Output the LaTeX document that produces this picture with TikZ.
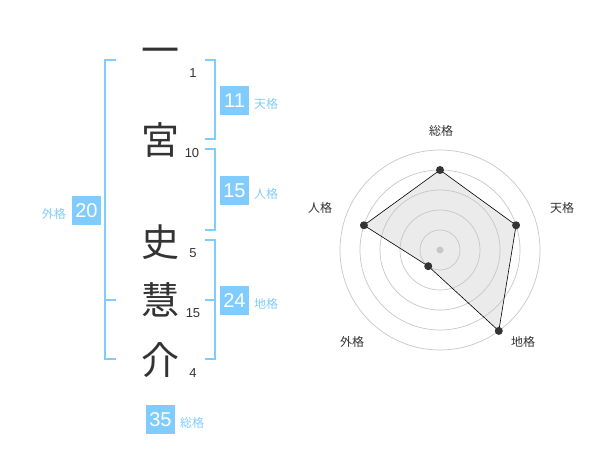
\documentclass[tikz,border=0pt]{standalone}
\usepackage{fontspec}
\setmainfont{Liberation Sans}
\newfontfamily\jp{Noto Sans CJK JP}
\definecolor{lblue}{RGB}{128,204,255}
\definecolor{dark}{RGB}{51,51,51}
\begin{document}
\begin{tikzpicture}[x=1pt,y=-1pt,
  bigchar/.style={font=\jp\fontsize{38}{38}\selectfont, text=dark, inner sep=0},
  strokes/.style={font=\fontsize{13}{13}\selectfont, text=dark, inner sep=0},
  valbox/.style={fill=lblue, text=white, minimum size=29pt, inner sep=0, font=\fontsize{20}{20}\selectfont},
  kaku/.style={text=lblue, font=\jp\fontsize{12}{12}\selectfont, inner sep=0},
  bracket/.style={draw=lblue, line width=2pt},
  ring/.style={draw=black!22, line width=0.7pt},
  rlabel/.style={text=dark, font=\jp\fontsize{12}{12}\selectfont, inner sep=0},
  dot/.style={circle, fill=dark, inner sep=0, minimum size=8pt},
  poly/.style={draw=black, line width=0.6pt}]
\useasboundingbox (0,0) rectangle (600,470);
% name characters
\node[bigchar] (c1) at (160,56) {一};
\node[bigchar] (c2) at (160,140) {宮};
\node[bigchar] (c3) at (160,242) {史};
\node[bigchar] (c4) at (160,300) {慧};
\node[bigchar] (c5) at (160,360) {介};
% stroke counts
\node[strokes] (n1) at (193,73) {1};
\node[strokes] (n2) at (192,153) {10};
\node[strokes] (n3) at (193,253) {5};
\node[strokes] (n4) at (193,313) {15};
\node[strokes] (n5) at (193,373) {4};
% brackets
\draw[bracket] (116,60) -- (105,60) -- (105,359) -- (116,359);
\draw[bracket] (105,300) -- (116,300);
\draw[bracket] (205,60) -- (215,60) -- (215,139) -- (205,139);
\draw[bracket] (205,149) -- (215,149) -- (215,230) -- (205,230);
\draw[bracket] (205,240) -- (215,240) -- (215,359) -- (205,359);
\draw[bracket] (205,300) -- (215,300);
% values
\node[valbox] (v1) at (234.5,100.5) {11};
\node[kaku, anchor=west] (k1) at (254,104) {天格};
\node[valbox] (v2) at (234.5,190.5) {15};
\node[kaku, anchor=west] (k2) at (254,194) {人格};
\node[valbox] (v3) at (234.5,300.5) {24};
\node[kaku, anchor=west] (k3) at (254,304) {地格};
\node[valbox] (v4) at (86.5,210.5) {20};
\node[kaku, anchor=east] (k4) at (66,214) {外格};
\node[valbox] (v5) at (160.5,419.5) {35};
\node[kaku, anchor=west] (k5) at (180,423) {総格};
% radar
\begin{scope}[shift={(440,250)}, x=1pt, y=1pt]
  \coordinate (p1) at (90:80);
  \coordinate (p2) at (18:80);
  \coordinate (p3) at (-54:100);
  \coordinate (p4) at (-126:20);
  \coordinate (p5) at (162:80);
  \fill[black!8] (p1) -- (p2) -- (p3) -- (p4) -- (p5) -- cycle;
  \foreach \r in {20,40,60,80,100} \draw[ring] (0,0) circle (\r);
  \node[circle, fill=black!22, inner sep=0, minimum size=7pt] (ctr) at (0,0) {};
  \draw[poly] (p1) -- (p2) -- (p3) -- (p4) -- (p5) -- cycle;
  \node[dot] (d1) at (p1) {};
  \node[dot] (d2) at (p2) {};
  \node[dot] (d3) at (p3) {};
  \node[dot] (d4) at (p4) {};
  \node[dot] (d5) at (p5) {};
\end{scope}
\node[rlabel] (r1) at (441,131) {総格};
\node[rlabel] (r2) at (562,208) {天格};
\node[rlabel] (r3) at (523,342) {地格};
\node[rlabel] (r4) at (352,342) {外格};
\node[rlabel] (r5) at (320,208) {人格};
\end{tikzpicture}
\end{document}
